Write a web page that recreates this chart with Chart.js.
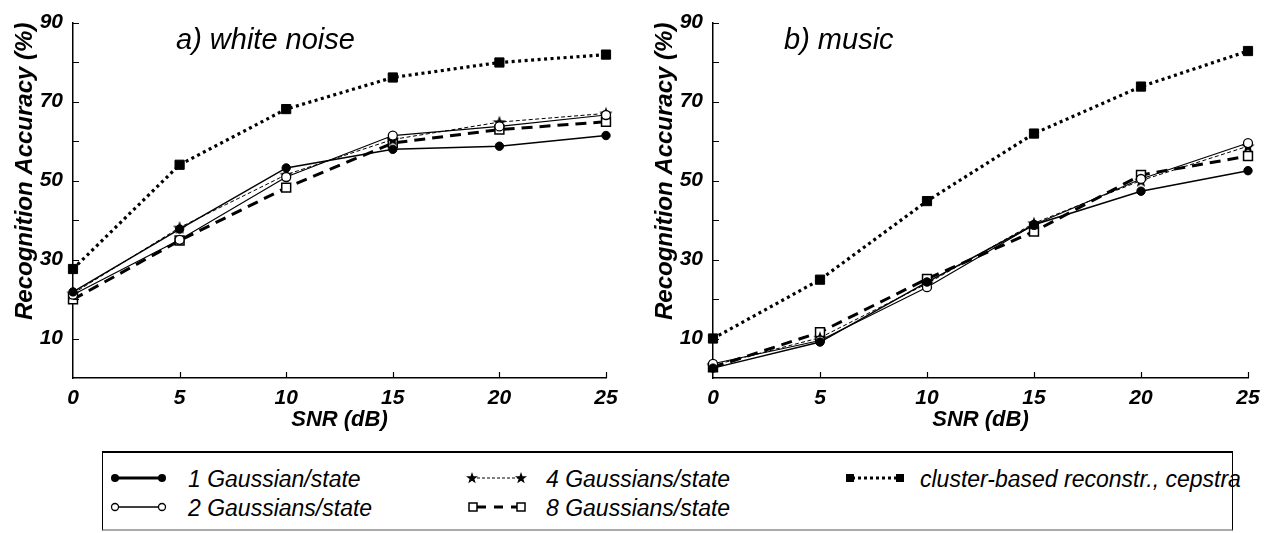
<!DOCTYPE html>
<html>
<head>
<meta charset="utf-8">
<script src="https://cdn.jsdelivr.net/npm/chart.js@4.4.1/dist/chart.umd.min.js"></script>
<style>
  html, body { margin: 0; padding: 0; background: #fff; }
  body { width: 1270px; height: 533px; position: relative; overflow: hidden;
         font-family: "Liberation Sans", Arial, sans-serif; color: #000; }
  canvas { position: absolute; top: 0; }
  #cA { left: 0; }
  #cB { left: 640px; }
  .ptitle { position: absolute; font-style: italic; font-size: 29px; line-height: 1; white-space: nowrap; }
  #legend { position: absolute; left: 102px; top: 451px; width: 1131px; height: 80px; box-sizing: border-box;
            border-top: 2px solid #000; border-right: 1.5px solid #000; border-left: 1.5px solid #000;
            border-bottom: 2px solid #aaa; }
  .ltxt { position: absolute; font-style: italic; font-size: 23px; line-height: 1; white-space: nowrap; }
  svg.lsym { position: absolute; left: 0; top: 440px; overflow: visible; }
</style>
</head>
<body>
<canvas id="cA" width="640" height="440"></canvas>
<canvas id="cB" width="630" height="440"></canvas>
<div class="ptitle" style="left:176px;top:25px;">a) white noise</div>
<div class="ptitle" style="left:784px;top:25px;">b) music</div>

<div id="legend"></div>
<svg class="lsym" width="1270" height="93">
  <!-- 1 Gaussian/state -->
  <line x1="115" y1="38" x2="162" y2="38" stroke="#000" stroke-width="3"/>
  <circle cx="115" cy="38" r="4" fill="#000"/><circle cx="162" cy="38" r="4" fill="#000"/>
  <!-- 2 Gaussians/state -->
  <line x1="115" y1="67" x2="162" y2="67" stroke="#000" stroke-width="1.3"/>
  <circle cx="115" cy="67" r="3.5" fill="#fff" stroke="#000" stroke-width="1.3"/>
  <circle cx="162" cy="67" r="3.5" fill="#fff" stroke="#000" stroke-width="1.3"/>
  <!-- 4 Gaussians/state -->
  <line x1="472" y1="38" x2="521" y2="38" stroke="#000" stroke-width="1" stroke-dasharray="3 2"/>
  <polygon fill="#000" points="472,32 473.5,36.2 478,36.3 474.4,39 475.7,43.3 472,40.7 468.3,43.3 469.6,39 466,36.3 470.5,36.2"/>
  <polygon fill="#000" points="521,32 522.5,36.2 527,36.3 523.4,39 524.7,43.3 521,40.7 517.3,43.3 518.6,39 515,36.3 519.5,36.2"/>
  <!-- 8 Gaussians/state -->
  <line x1="477" y1="67" x2="517" y2="67" stroke="#000" stroke-width="3" stroke-dasharray="9 8"/>
  <rect x="469" y="63" width="8" height="8" fill="#fff" stroke="#000" stroke-width="1.5"/>
  <rect x="517" y="63" width="8" height="8" fill="#fff" stroke="#000" stroke-width="1.5"/>
  <!-- cluster-based -->
  <line x1="852" y1="38" x2="898" y2="38" stroke="#000" stroke-width="3" stroke-dasharray="3 3"/>
  <rect x="846" y="34" width="8" height="8" fill="#000"/>
  <rect x="896" y="34" width="8" height="8" fill="#000"/>
</svg>
<div class="ltxt" style="left:188px;top:468px;">1 Gaussian/state</div>
<div class="ltxt" style="left:188px;top:497px;">2 Gaussians/state</div>
<div class="ltxt" style="left:546px;top:468px;">4 Gaussians/state</div>
<div class="ltxt" style="left:546px;top:497px;">8 Gaussians/state</div>
<div class="ltxt" style="left:920px;top:468px;">cluster-based reconstr., cepstra</div>

<script>
// SNR values on the x axis
var snr = [0, 5, 10, 15, 20, 25];

// a) white noise
var g1White = [21.8, 37.7, 53.2, 57.9, 58.7, 61.4];
var g2White = [21.1, 35.0, 50.9, 61.4, 63.7, 66.6];
var g4White = [21.4, 38.1, 51.5, 60.4, 64.8, 67.0];
var g8White = [19.9, 34.8, 48.2, 59.5, 62.9, 64.9];
var clWhite = [27.6, 54.0, 68.1, 76.1, 79.9, 81.9];

// b) music
var g1Music = [2.5, 9.1, 24.3, 38.8, 47.3, 52.5];
var g2Music = [3.6, 9.5, 23.0, 38.8, 50.4, 59.5];
var g4Music = [3.2, 10.2, 23.9, 39.2, 50.0, 58.7];
var g8Music = [2.7, 11.6, 25.1, 37.1, 51.4, 56.2];
var clMusic = [10.0, 24.9, 44.8, 61.9, 73.8, 82.8];

var seriesNames = ['1 Gaussian/state', '2 Gaussians/state', '4 Gaussians/state', '8 Gaussians/state', 'cluster-based reconstr., cepstra'];

Chart.defaults.font.family = '"Liberation Sans", Arial, sans-serif';
Chart.defaults.color = '#000';

function starImage(size) {
  var c = document.createElement('canvas');
  c.width = c.height = size;
  var g = c.getContext('2d');
  g.beginPath();
  for (var i = 0; i < 10; i++) {
    var r = i % 2 ? size * 0.21 : size * 0.5;
    var a = -Math.PI / 2 + i * Math.PI / 5;
    g.lineTo(size / 2 + r * Math.cos(a), size / 2 + 0.6 + r * Math.sin(a));
  }
  g.closePath();
  g.fillStyle = '#000';
  g.fill();
  return c;
}
var star = starImage(14);

function pts(ys) {
  return snr.map(function(x, i) { return {x: x, y: ys[i]}; });
}

// short tick marks pointing into the plot
var inwardTicks = {
  id: 'inwardTicks',
  afterDraw: function(chart) {
    var ctx = chart.ctx, a = chart.chartArea;
    ctx.save();
    ctx.strokeStyle = '#000';
    ctx.lineWidth = 1.2;
    ctx.beginPath();
    chart.scales.y.ticks.forEach(function(t) {
      if (t.value <= 0) return;
      var y = Math.round(chart.scales.y.getPixelForValue(t.value)) + 0.5;
      ctx.moveTo(a.left, y); ctx.lineTo(a.left + 6, y);
    });
    chart.scales.x.ticks.forEach(function(t) {
      if (t.value <= 0) return;
      var x = Math.round(chart.scales.x.getPixelForValue(t.value)) + 0.5;
      ctx.moveTo(x, a.bottom); ctx.lineTo(x, a.bottom - 6);
    });
    ctx.stroke();
    ctx.restore();
  }
};

function makePanel(id, g1, g2, g4, g8, cl, rightPad) {
  var ctx = document.getElementById(id);
  return new Chart(ctx, {
    type: 'line',
    data: {
      datasets: [
        { label: seriesNames[0], data: pts(g1), borderColor: '#000', borderWidth: 1.5,
          pointStyle: 'circle', pointRadius: 4.2, pointBackgroundColor: '#000', pointBorderColor: '#000', pointBorderWidth: 1 },
        { label: seriesNames[1], data: pts(g2), borderColor: '#000', borderWidth: 1.2,
          pointStyle: 'circle', pointRadius: 4.5, pointBackgroundColor: '#fff', pointBorderColor: '#000', pointBorderWidth: 1.3 },
        { label: seriesNames[2], data: pts(g4), borderColor: '#000', borderWidth: 1, borderDash: [4, 2.5],
          pointStyle: star, pointRadius: 7 },
        { label: seriesNames[3], data: pts(g8), borderColor: '#000', borderWidth: 3, borderDash: [11, 7],
          pointStyle: 'rect', pointRadius: 6.3, pointBackgroundColor: '#fff', pointBorderColor: '#000', pointBorderWidth: 1.5 },
        { label: seriesNames[4], data: pts(cl), borderColor: '#000', borderWidth: 3.2, borderDash: [3, 3.5],
          pointStyle: 'rect', pointRadius: 6.5, pointBackgroundColor: '#000', pointBorderColor: '#000', pointBorderWidth: 1 }
      ]
    },
    options: {
      responsive: false,
      animation: false,
      clip: false,
      tension: 0,
      layout: { padding: { top: 15, right: rightPad, bottom: 0, left: 0 } },
      plugins: { legend: { display: false }, tooltip: { enabled: false } },
      scales: {
        x: {
          type: 'linear', min: 0, max: 25,
          grid: { display: false, drawTicks: false },
          border: { display: true, color: '#000', width: 1.5 },
          ticks: { stepSize: 5, padding: 8, color: '#000',
                   font: { size: 21, style: 'italic', weight: 'bold' } },
          title: { display: true, text: 'SNR (dB)', color: '#000', padding: { top: 0, bottom: 7 },
                   font: { size: 22, style: 'italic', weight: 'bold' } },
          afterFit: function(s) { s.height = 62; }
        },
        y: {
          min: 0, max: 90,
          grid: { display: false, drawTicks: false },
          border: { display: true, color: '#000', width: 1.5 },
          ticks: { stepSize: 10, padding: 10, autoSkip: false, color: '#000',
                   font: { size: 21, style: 'italic', weight: 'bold' },
                   callback: function(v) { return v % 20 === 10 ? v : ''; } },
          title: { display: true, text: 'Recognition Accuracy (%)', align: 'end', color: '#000',
                   padding: { top: 11, bottom: 0 },
                   font: { size: 24, style: 'italic', weight: 'bold' } },
          afterFit: function(s) { s.width = 73; }
        }
      }
    },
    plugins: [inwardTicks]
  });
}

document.addEventListener('DOMContentLoaded', function() {
  makePanel('cA', g1White, g2White, g4White, g8White, clWhite, 34);
  makePanel('cB', g1Music, g2Music, g4Music, g8Music, clMusic, 22);
});
</script>
</body>
</html>
